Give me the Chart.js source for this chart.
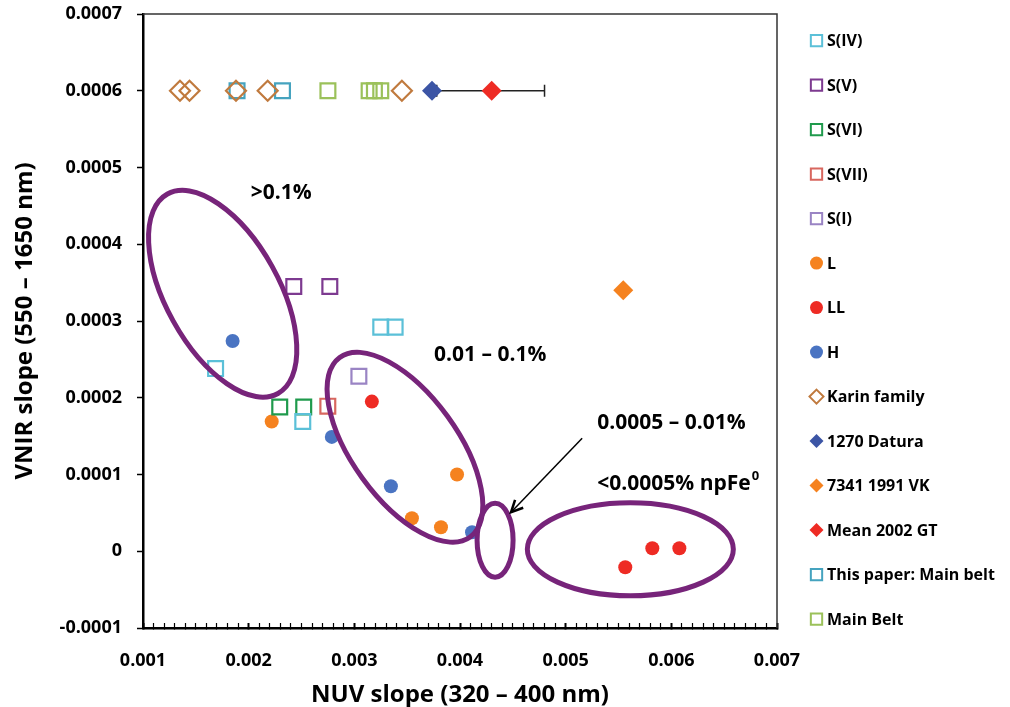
<!DOCTYPE html>
<html>
<head>
<meta charset="utf-8">
<script src="https://cdn.jsdelivr.net/npm/chart.js@4/dist/chart.umd.min.js"></script>
<style>
  html, body { margin: 0; padding: 0; background: #fff; }
  canvas { display: block; }
</style>
</head>
<body>
<canvas id="slopes" width="1010" height="707"></canvas>
<script>
// --- values (NUV slope on x, VNIR slope on y) ---
const sIV_x = [0.00325, 0.003386, 0.001687, 0.002512];
const sIV_y = [0.000292, 0.000292, 0.000238, 0.000169];
const sV_x = [0.002427, 0.002768];
const sV_y = [0.000345, 0.000345];
const sVI_x = [0.002294, 0.002521];
const sVI_y = [0.000188, 0.000188];
const sVII_x = [0.002749];
const sVII_y = [0.000189];
const sI_x = [0.003043];
const sI_y = [0.000228];
const L_x = [0.002218, 0.003972, 0.003545, 0.00382];
const L_y = [0.000169, 0.0001, 0.000043, 0.0000313];
const LL_x = [0.003166, 0.005564, 0.00582, 0.006076];
const LL_y = [0.000195, -0.0000208, 0.0000039, 0.0000039];
const H_x = [0.001848, 0.002787, 0.003346, 0.004114];
const H_y = [0.000274, 0.000149, 0.0000847, 0.0000248];
const karin_x = [0.00135, 0.00144, 0.00188, 0.00218, 0.00345];
const karin_y = [0.0006, 0.0006, 0.0006, 0.0006, 0.0006];
const datura_x = [0.003735];
const datura_y = [0.0006];
const vk_x = [0.005545];
const vk_y = [0.00034];
const gt_x = [0.0043];
const gt_y = [0.0006];
const gt_errLow = 0.00378;
const gt_errHigh = 0.0048;
const paper_x = [0.00189, 0.00232];
const paper_y = [0.0006, 0.0006];
const mainBelt_x = [0.00275, 0.00314, 0.00319, 0.00325];
const mainBelt_y = [0.0006, 0.0006, 0.0006, 0.0006];

const xMin = 0.001, xMax = 0.007, xStep = 0.0001;
const yMin = -0.0001, yMax = 0.0007, yStep = 0.0001;

const FONT = "'Open Sans', 'DejaVu Sans', sans-serif";

function pts(xs, ys) {
    return xs.map((v, i) => ({ x: v, y: ys[i] }));
}

// hollow = carré/losange vide, sinon plein
function serie(label, xs, ys, color, style, hollow) {
    const isRect = style === 'rect';
    return {
        label: label,
        data: pts(xs, ys),
        pointStyle: style,
        pointRadius: isRect ? 10.5 : (style === 'circle' ? 7 : 10),
        pointHoverRadius: isRect ? 10.5 : (style === 'circle' ? 7 : 10),
        borderColor: color,
        backgroundColor: hollow ? 'rgba(0,0,0,0)' : color,
        pointBorderWidth: hollow ? 2.2 : 0,
        borderWidth: hollow ? 2.2 : 0,
        _hollow: hollow
    };
}

const datasets = [
    serie('S(IV)', sIV_x, sIV_y, '#5bc0d8', 'rect', true),
    serie('S(V)', sV_x, sV_y, '#7d3a90', 'rect', true),
    serie('S(VI)', sVI_x, sVI_y, '#1f9a4c', 'rect', true),
    serie('S(VII)', sVII_x, sVII_y, '#d8675f', 'rect', true),
    serie('S(I)', sI_x, sI_y, '#9a84c4', 'rect', true),
    serie('L', L_x, L_y, '#f5821f', 'circle', false),
    serie('LL', LL_x, LL_y, '#ee2b24', 'circle', false),
    serie('H', H_x, H_y, '#4a74c2', 'circle', false),
    serie('Karin family', karin_x, karin_y, '#c07a3e', 'rectRot', true),
    serie('1270 Datura', datura_x, datura_y, '#3c55a5', 'rectRot', false),
    serie('7341 1991 VK', vk_x, vk_y, '#f5821f', 'rectRot', false),
    serie('Mean 2002 GT', gt_x, gt_y, '#ee2b24', 'rectRot', false),
    serie('This paper: Main belt', paper_x, paper_y, '#45a3bf', 'rect', true),
    serie('Main Belt', mainBelt_x, mainBelt_y, '#9bc15a', 'rect', true)
];

// Ellipses et annotations (centres en unités de données, tailles en pixels)
const ellipses = [
    { cx: 0.001754, cy: 0.0003355, a: 114, b: 56.5, rot: 61 },
    { cx: 0.003479, cy: 0.0001355, a: 111, b: 52.6, rot: 54 },
    { cx: 0.004332, cy: 0.0000143, a: 37, b: 18, rot: 90 },
    { cx: 0.005612, cy: 0.0000026, a: 103, b: 46.5, rot: 0 }
];
const notes = [
    { text: '>0.1%', x: 0.002019, y: 0.0004665 },
    { text: '0.01 \u2013 0.1%', x: 0.003754, y: 0.0002554 },
    { text: '0.0005 \u2013 0.01%', x: 0.005299, y: 0.0001668 },
    { text: '<0.0005% npFe', x: 0.005299, y: 0.0000873, sup: '0' }
];
const arrow = { x1: 0.005156, y1: 0.0001472, x2: 0.004483, y2: 0.0000508 };

function marker(ctx, style, x, y, r, color, hollow) {
    ctx.save();
    ctx.beginPath();
    if (style === 'rect') {
        const s = r * Math.SQRT1_2;
        ctx.rect(x - s, y - s, 2 * s, 2 * s);
    } else if (style === 'circle') {
        ctx.arc(x, y, r, 0, Math.PI * 2);
    } else {
        ctx.moveTo(x, y - r);
        ctx.lineTo(x + r, y);
        ctx.lineTo(x, y + r);
        ctx.lineTo(x - r, y);
        ctx.closePath();
    }
    if (hollow) {
        ctx.strokeStyle = color;
        ctx.lineWidth = 2;
        ctx.stroke();
    } else {
        ctx.fillStyle = color;
        ctx.fill();
    }
    ctx.restore();
}

const decorPlugin = {
    id: 'decor',
    beforeDatasetsDraw(chart) {
        const { ctx, scales: { x, y } } = chart;
        // barre d'erreur de 2002 GT
        const py = y.getPixelForValue(gt_y[0]);
        const x1 = x.getPixelForValue(gt_errLow);
        const x2 = x.getPixelForValue(gt_errHigh);
        ctx.save();
        ctx.strokeStyle = '#222';
        ctx.lineWidth = 1.5;
        ctx.beginPath();
        ctx.moveTo(x1, py); ctx.lineTo(x2, py);
        ctx.moveTo(x1, py - 6); ctx.lineTo(x1, py + 6);
        ctx.moveTo(x2, py - 6); ctx.lineTo(x2, py + 6);
        ctx.stroke();
        ctx.restore();
    },
    afterDatasetsDraw(chart) {
        const { ctx, chartArea: area, scales: { x, y } } = chart;
        ctx.save();
        // cadre haut / droite
        ctx.strokeStyle = '#333';
        ctx.lineWidth = 1.5;
        ctx.beginPath();
        ctx.moveTo(area.left, area.top);
        ctx.lineTo(area.right, area.top);
        ctx.lineTo(area.right, area.bottom);
        ctx.stroke();

        ctx.strokeStyle = '#77247a';
        ctx.lineWidth = 5;
        ellipses.forEach(e => {
            ctx.beginPath();
            ctx.ellipse(x.getPixelForValue(e.cx), y.getPixelForValue(e.cy),
                e.a, e.b, e.rot * Math.PI / 180, 0, Math.PI * 2);
            ctx.stroke();
        });
        ctx.restore();
    },
    afterDraw(chart) {
        const { ctx, scales: { x, y } } = chart;
        ctx.save();
        ctx.fillStyle = '#000';
        ctx.textBaseline = 'middle';
        ctx.textAlign = 'left';
        notes.forEach(n => {
            ctx.font = 'bold 21px ' + FONT;
            const px = x.getPixelForValue(n.x);
            const py = y.getPixelForValue(n.y);
            ctx.fillText(n.text, px, py);
            if (n.sup) {
                const w = ctx.measureText(n.text).width;
                ctx.font = 'bold 13px ' + FONT;
                ctx.fillText(n.sup, px + w + 1, py - 8);
            }
        });

        // flèche
        const ax1 = x.getPixelForValue(arrow.x1), ay1 = y.getPixelForValue(arrow.y1);
        const ax2 = x.getPixelForValue(arrow.x2), ay2 = y.getPixelForValue(arrow.y2);
        const ang = Math.atan2(ay2 - ay1, ax2 - ax1);
        ctx.strokeStyle = '#000';
        ctx.lineWidth = 1.5;
        ctx.beginPath();
        ctx.moveTo(ax1, ay1); ctx.lineTo(ax2, ay2);
        ctx.stroke();
        ctx.lineWidth = 2.5;
        ctx.beginPath();
        ctx.moveTo(ax2 - 13 * Math.cos(ang - 0.45), ay2 - 13 * Math.sin(ang - 0.45));
        ctx.lineTo(ax2, ay2);
        ctx.lineTo(ax2 - 13 * Math.cos(ang + 0.45), ay2 - 13 * Math.sin(ang + 0.45));
        ctx.stroke();

        // légende à droite
        ctx.font = 'bold 16px ' + FONT;
        chart.data.datasets.forEach((ds, i) => {
            const ly = 40.6 + i * 44.5;
            const r = ds.pointStyle === 'rect' ? 8 : (ds.pointStyle === 'circle' ? 6.5 : 7);
            marker(ctx, ds.pointStyle, 816.5, ly, r, ds.borderColor, ds._hollow);
            ctx.fillStyle = '#000';
            ctx.fillText(ds.label, 827, ly + 1);
        });
        ctx.restore();
    }
};

const k4 = v => Math.round(v * 10000);

new Chart(document.getElementById('slopes'), {
    type: 'scatter',
    data: { datasets: datasets },
    options: {
        responsive: false,
        animation: false,
        layout: { padding: { left: 0, top: 14, right: 233, bottom: 0 } },
        plugins: {
            legend: { display: false },
            tooltip: { enabled: false }
        },
        scales: {
            x: {
                type: 'linear',
                min: xMin, max: xMax,
                afterFit(scale) { scale.height = 79; },
                border: { color: '#000', width: 2.5 },
                grid: {
                    drawOnChartArea: false,
                    drawTicks: true,
                    tickLength: -5,
                    tickColor: '#000',
                    tickWidth: ctx => (k4(ctx.tick.value) % 10 === 0 ? 2 : 1.2)
                },
                ticks: {
                    stepSize: xStep,
                    autoSkip: false,
                    maxRotation: 0,
                    padding: 27,
                    color: '#000',
                    font: { family: FONT, size: 18, weight: 'bold' },
                    callback: v => (k4(v) % 10 === 0 ? (k4(v) / 10000).toFixed(3) : '')
                },
                title: {
                    display: true,
                    text: 'NUV slope (320 \u2013 400 nm)',
                    color: '#000',
                    font: { family: FONT, size: 24, weight: 'bold', lineHeight: 1 },
                    padding: { top: 0, bottom: 0 }
                }
            },
            y: {
                type: 'linear',
                min: yMin, max: yMax,
                afterFit(scale) {
                    scale.width = 143;
                    scale.paddingTop = 0;
                    scale.paddingBottom = 0;
                },
                border: { color: '#000', width: 2.5 },
                grid: {
                    drawOnChartArea: false,
                    drawTicks: true,
                    tickLength: 6,
                    tickColor: '#000',
                    tickWidth: 1.5
                },
                ticks: {
                    stepSize: yStep,
                    autoSkip: false,
                    padding: 15,
                    color: '#000',
                    font: { family: FONT, size: 18, weight: 'bold' },
                    callback: v => (k4(v) === 0 ? '0' : (k4(v) / 10000).toFixed(4))
                },
                title: {
                    display: true,
                    text: 'VNIR slope (550 \u2013 1650 nm)',
                    color: '#000',
                    font: { family: FONT, size: 24, weight: 'bold', lineHeight: 1 },
                    padding: { top: 13, bottom: 0 }
                }
            }
        }
    },
    plugins: [decorPlugin]
});
</script>
</body>
</html>
